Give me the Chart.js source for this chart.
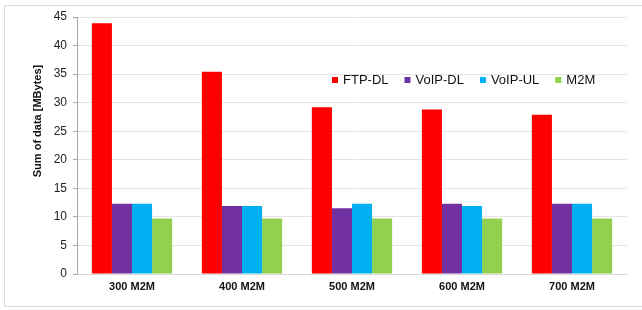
<!DOCTYPE html>
<html>
<head>
<meta charset="utf-8">
<script src="https://cdn.jsdelivr.net/npm/chart.js@4.4.1/dist/chart.umd.min.js"></script>
<style>
  html, body { margin: 0; padding: 0; background: #fff; }
  #wrap { position: relative; width: 642px; height: 310px; overflow: hidden; }
  #frame { position: absolute; left: 4px; top: 5px; width: 660px; height: 302px; border: 1px solid #dcdcdc; box-sizing: border-box; }
  canvas { position: absolute; left: 0; top: 0; }
</style>
</head>
<body>
<div id="wrap">
  <div id="frame"></div>
  <canvas id="chart" width="642" height="310"></canvas>
</div>
<script>
// values
var categories = ["300 M2M", "400 M2M", "500 M2M", "600 M2M", "700 M2M"];
var ftpDL  = [43.9, 35.4, 29.2, 28.8, 27.9];
var voipDL = [12.3, 11.9, 11.5, 12.3, 12.3];
var voipUL = [12.3, 11.9, 12.3, 11.9, 12.3];
var m2m    = [9.7, 9.7, 9.7, 9.7, 9.7];
var yTicks = [0, 5, 10, 15, 20, 25, 30, 35, 40, 45];

var seriesNames  = ["FTP-DL", "VoIP-DL", "VoIP-UL", "M2M"];
var seriesColors = ["#ff0000", "#7030a0", "#00b0f0", "#92d050"];

// legend sits inside the plot, so draw it by hand, same for the axis title
var extras = {
    id: "extras",
    afterDraw: function(chart){
        var ctx = chart.ctx;
        ctx.save();
        ctx.font = "13px 'Liberation Sans', Arial, sans-serif";
        ctx.textBaseline = "middle";
        ctx.textAlign = "left";
        var x = 332, y = 80;
        for (var i = 0; i < seriesNames.length; i++) {
            ctx.fillStyle = seriesColors[i];
            ctx.fillRect(x, y - 3, 6, 6);
            x += 11;
            ctx.fillStyle = "#111";
            ctx.fillText(seriesNames[i], x, y + 0.5);
            x += ctx.measureText(seriesNames[i]).width + 16;
        }
        ctx.translate(38, 121);
        ctx.rotate(-Math.PI / 2);
        ctx.textAlign = "center";
        ctx.font = "bold 11px 'Liberation Sans', Arial, sans-serif";
        ctx.fillText("Sum of data [MBytes]", 0, 0);
        ctx.restore();
    }
};

var datasets = [ftpDL, voipDL, voipUL, m2m].map(function(d, i){
    return {
        label: seriesNames[i],
        data: d,
        backgroundColor: seriesColors[i],
        categoryPercentage: 0.73,
        barPercentage: 1.0
    };
});

new Chart(document.getElementById("chart"), {
    type: "bar",
    data: { labels: categories, datasets: datasets },
    plugins: [extras],
    options: {
        responsive: false,
        animation: false,
        layout: { padding: { left: 0, right: 15, top: 17, bottom: 0 } },
        plugins: {
            legend: { display: false },
            tooltip: { enabled: false }
        },
        scales: {
            x: {
                grid: { display: false, drawTicks: false },
                border: { color: "#d9d9d9", width: 1 },
                ticks: {
                    color: "#111",
                    padding: 6,
                    font: { family: "'Liberation Sans', Arial, sans-serif", size: 11, weight: "bold" }
                },
                afterFit: function(s){ s.height = 36; }
            },
            y: {
                min: 0,
                max: 45,
                afterBuildTicks: function(s){ s.ticks = yTicks.map(function(v){ return { value: v }; }); },
                grid: { color: "#e4e4e4", tickColor: "#a6a6a6", tickLength: 4 },
                border: { color: "#a6a6a6", width: 1 },
                ticks: {
                    color: "#222",
                    padding: 6,
                    font: { family: "'Liberation Sans', Arial, sans-serif", size: 12 }
                },
                afterFit: function(s){ s.width = 77; }
            }
        }
    }
});
</script>
</body>
</html>
